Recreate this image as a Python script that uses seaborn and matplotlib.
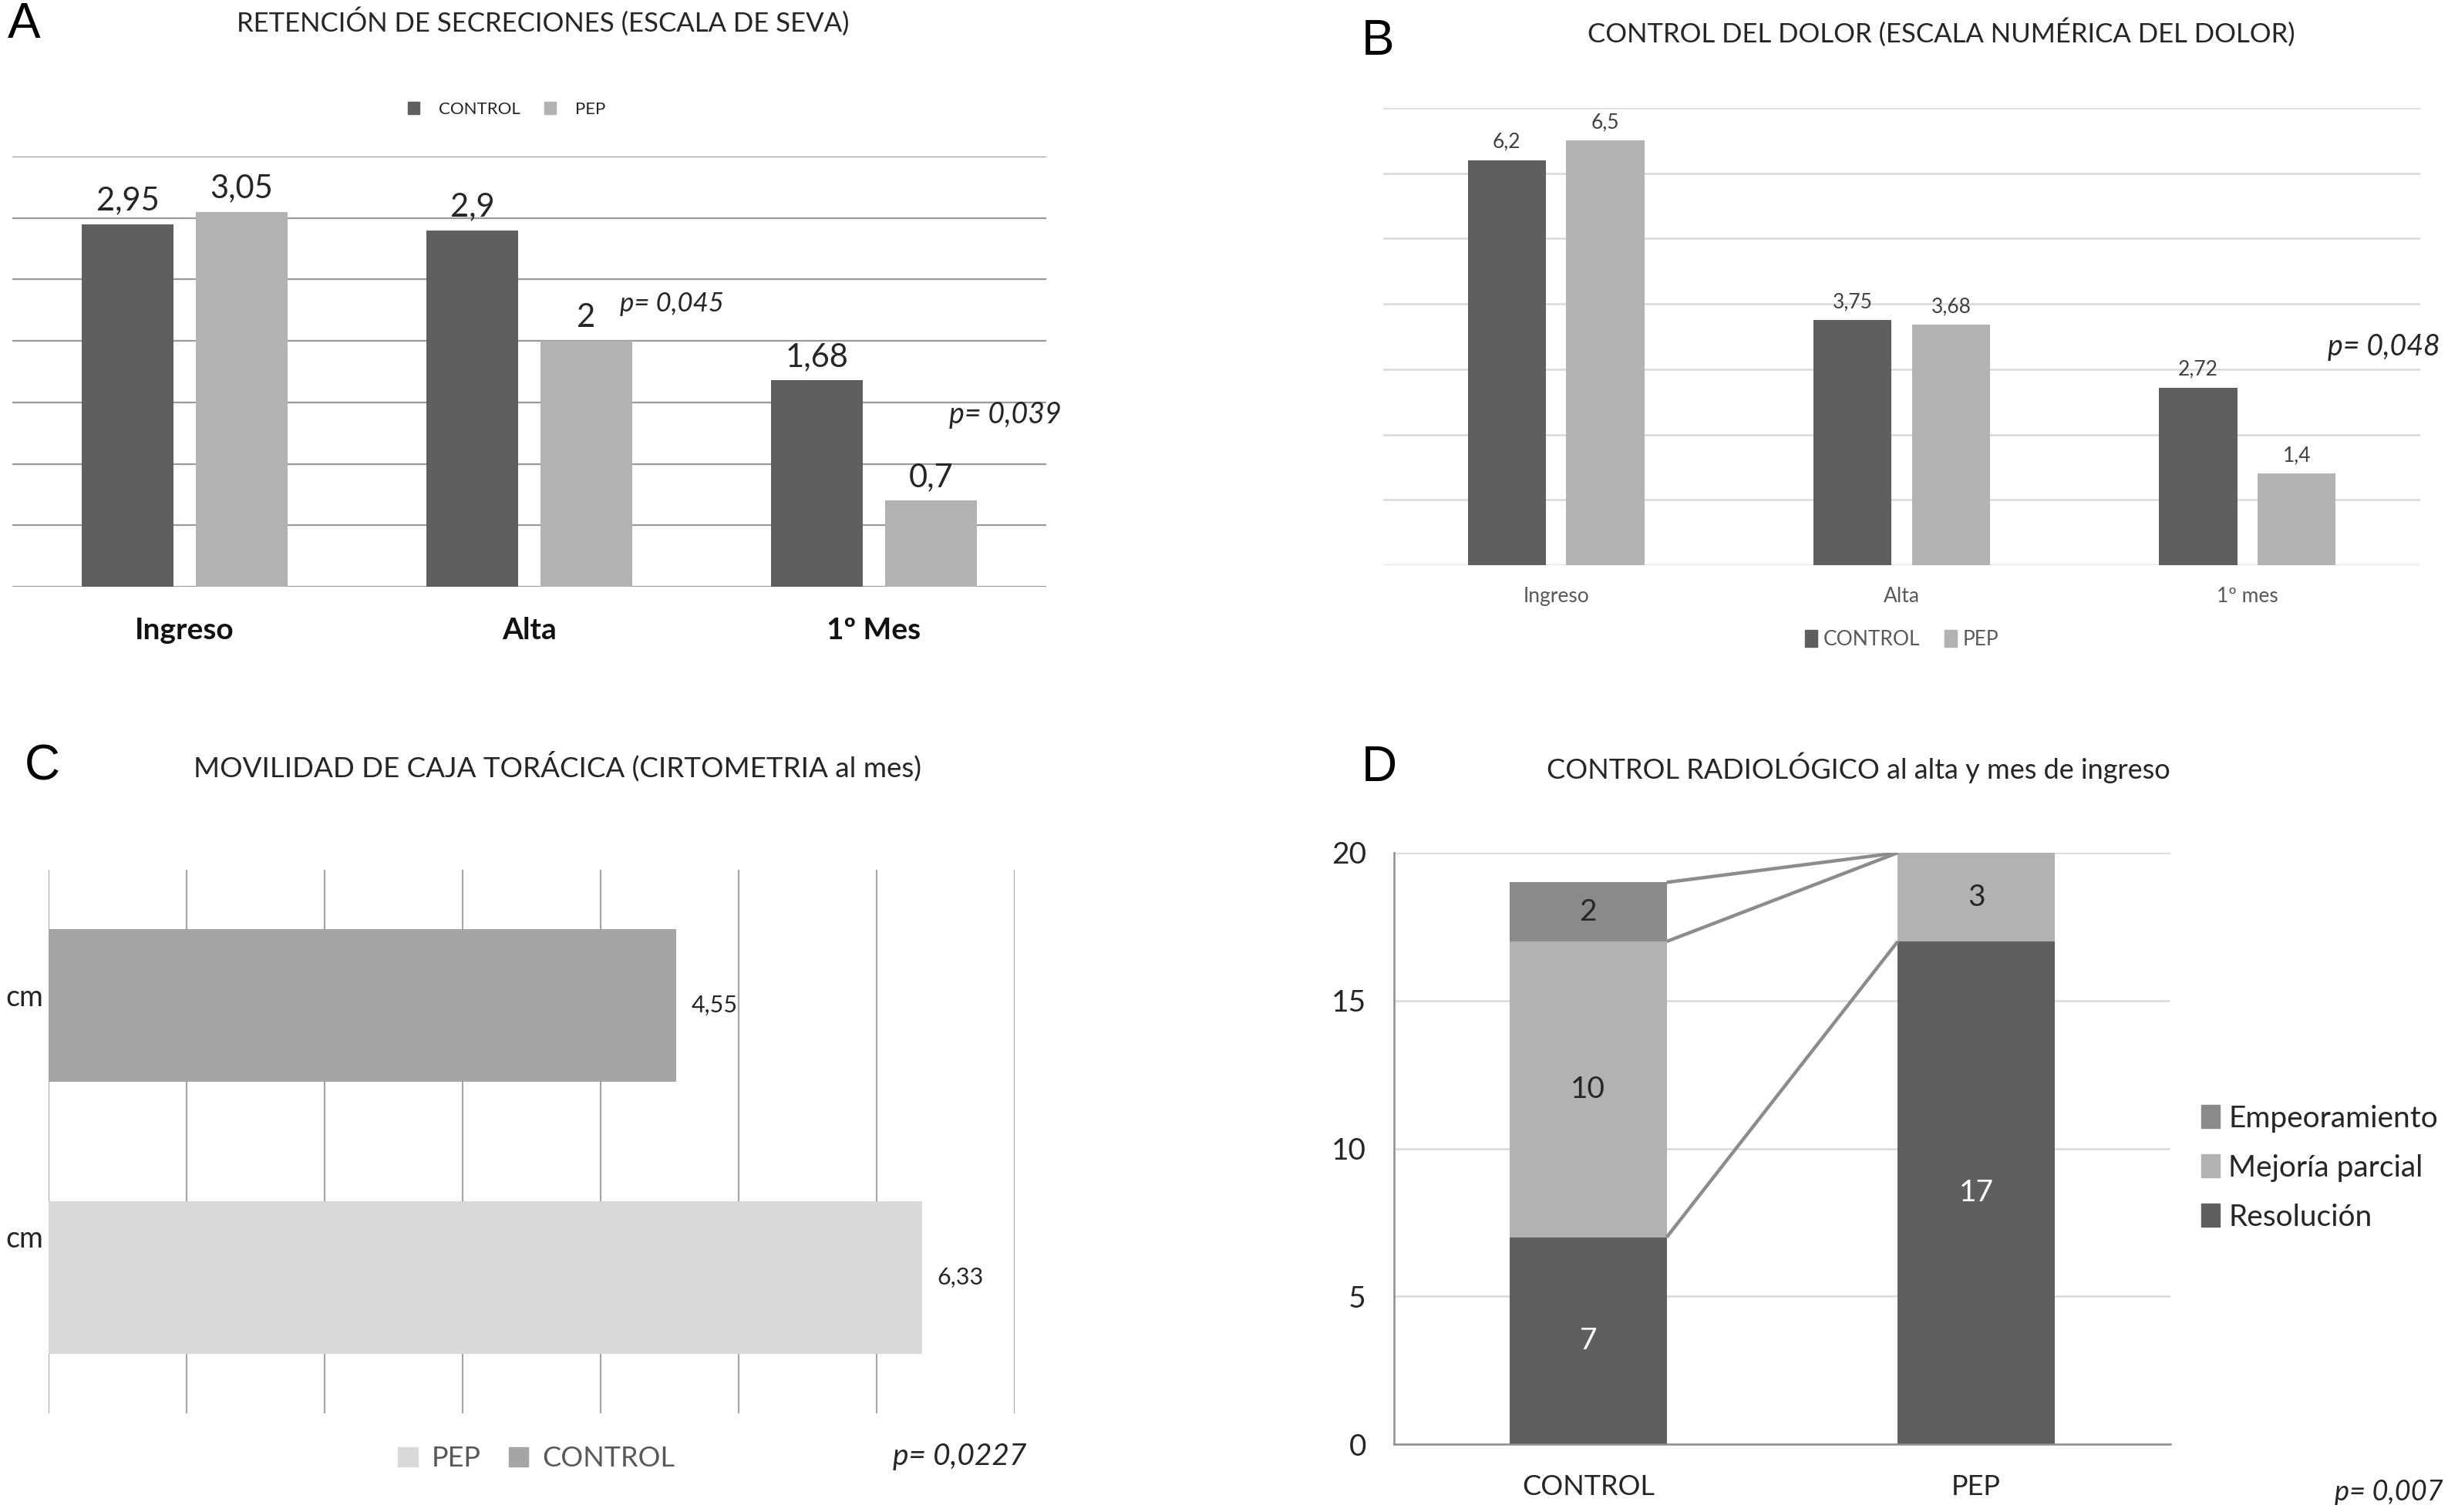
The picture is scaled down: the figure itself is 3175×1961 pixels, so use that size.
import numpy as np
import pandas as pd
import matplotlib
matplotlib.use("Agg")
import matplotlib.pyplot as plt
import seaborn as sns
from matplotlib.patches import Patch

# ---------------- DATA ----------------
grupos = ["CONTROL", "PEP"]

cats_A = ["Ingreso", "Alta", "1º Mes"]
control_A = [2.95, 2.9, 1.68]
pep_A = [3.05, 2.0, 0.7]
pvals_A = ["p= 0,045", "p= 0,039"]

cats_B = ["Ingreso", "Alta", "1º mes"]
control_B = [6.2, 3.75, 2.72]
pep_B = [6.5, 3.68, 1.4]
pval_B = "p= 0,048"

grupos_C = ["CONTROL", "PEP"]
valores_C = [4.55, 6.33]
ylabels_C = ["cm", "cm"]
pval_C = "p= 0,0227"

grupos_D = ["CONTROL", "PEP"]
estados_D = ["Resolución", "Mejoría parcial", "Empeoramiento"]
resolucion_D = [7, 17]
mejoria_D = [10, 3]
empeora_D = [2, 0]
pval_D = "p= 0,007"

titles = ["RETENCIÓN DE SECRECIONES (ESCALA DE SEVA)",
          "CONTROL DEL DOLOR (ESCALA NUMÉRICA DEL DOLOR)",
          "MOVILIDAD DE CAJA TORÁCICA (CIRTOMETRIA al mes)",
          "CONTROL RADIOLÓGICO al alta y mes de ingreso"]
letters = ["A", "B", "C", "D"]

# ---------------- STYLE ----------------
DARK = "#5f5f5f"
LIGHT = "#b2b2b2"
C_CTRL = "#a5a5a5"
C_PEP = "#d9d9d9"
D_EMP = "#8a8a8a"
TXT = "#262626"

sns.set_theme(style="white")
plt.rcParams["font.family"] = ["Lato", "DejaVu Sans"]

W, H = 3175, 1961
fig = plt.figure(figsize=(W / 100, H / 100), dpi=100)


def fx(px):
    return px / W


def fy(py):
    return 1 - py / H


def fmt(v):
    return f"{v:g}".replace(".", ",")


def ax_rect(x0, y0, x1, y1):
    return [fx(x0), fy(y1), fx(x1) - fx(x0), (y1 - y0) / H]


# ---------------- PANEL A ----------------
axA = fig.add_axes(ax_rect(16, 203, 1357, 761))
dfA = pd.DataFrame({
    "cat": cats_A * 2,
    "grupo": ["CONTROL"] * 3 + ["PEP"] * 3,
    "val": control_A + pep_A,
})
sns.barplot(data=dfA, x="cat", y="val", hue="grupo", hue_order=grupos,
            palette={"CONTROL": DARK, "PEP": LIGHT}, saturation=1,
            width=0.66, gap=0.19, legend=False, ax=axA, errorbar=None, linewidth=0)
for cont, vals in zip(axA.containers, [control_A, pep_A]):
    axA.bar_label(cont, labels=[fmt(v) for v in vals], padding=8,
                  fontsize=30, color=TXT)
axA.set_ylim(0, 3.5)
axA.set_xlim(-0.5, 2.5)
axA.set_yticks(np.arange(0, 3.51, 0.5))
axA.yaxis.grid(True, color="#9a9a9a", lw=1.6)
axA.set_axisbelow(True)
axA.tick_params(axis="y", length=0, labelleft=False)
axA.tick_params(axis="x", length=0, pad=28, labelsize=28, labelcolor="#111111")
for lab in axA.get_xticklabels():
    lab.set_fontweight("bold")
for s in axA.spines.values():
    s.set_visible(False)
axA.set_xlabel("")
axA.set_ylabel("")
axA.legend(handles=[Patch(color=DARK, label="CONTROL"), Patch(color=LIGHT, label="PEP")],
           loc="center", bbox_to_anchor=(0.478, 1.11), ncol=2, frameon=False,
           fontsize=16, handlelength=0.7, handleheight=0.7, columnspacing=1.4,
           handletextpad=1.1, labelcolor=TXT)
axA.text(1.262, 2.30, pvals_A[0], style="italic", fontsize=25, ha="left", va="center", color=TXT)
axA.text(2.218, 1.40, pvals_A[1], style="italic", fontsize=27, ha="left", va="center", color=TXT)

# ---------------- PANEL B ----------------
axB = fig.add_axes(ax_rect(1794, 140, 3139, 733))
dfB = pd.DataFrame({
    "cat": cats_B * 2,
    "grupo": ["CONTROL"] * 3 + ["PEP"] * 3,
    "val": control_B + pep_B,
})
sns.barplot(data=dfB, x="cat", y="val", hue="grupo", hue_order=grupos,
            palette={"CONTROL": DARK, "PEP": LIGHT}, saturation=1,
            width=0.57, gap=0.207, legend=False, ax=axB, errorbar=None, linewidth=0)
for cont, vals in zip(axB.containers, [control_B, pep_B]):
    axB.bar_label(cont, labels=[fmt(v) for v in vals], padding=8,
                  fontsize=19, color="#404040")
axB.set_ylim(0, 7)
axB.set_xlim(-0.5, 2.5)
axB.set_yticks(np.arange(0, 7.1, 1))
axB.yaxis.grid(True, color="#d9d9d9", lw=1.8)
axB.set_axisbelow(True)
axB.tick_params(axis="y", length=0, labelleft=False)
axB.tick_params(axis="x", length=0, pad=20, labelsize=19, labelcolor="#595959")
for s in axB.spines.values():
    s.set_visible(False)
axB.set_xlabel("")
axB.set_ylabel("")
axB.legend(handles=[Patch(color=DARK, label="CONTROL"), Patch(color=LIGHT, label="PEP")],
           loc="center", bbox_to_anchor=(0.5, -0.163), ncol=2, frameon=False,
           fontsize=19, handlelength=0.6, handleheight=0.9, columnspacing=1.2,
           handletextpad=0.3, labelcolor="#595959")
fig.text(fx(3165), fy(450), pval_B, style="italic", fontsize=27, ha="right", va="center", color=TXT)

# ---------------- PANEL C ----------------
axC = fig.add_axes(ax_rect(63, 1128, 1316, 1833))
dfC = pd.DataFrame({"grupo": grupos_C, "val": valores_C})
sns.barplot(data=dfC, x="val", y="grupo", hue="grupo", hue_order=grupos_C,
            palette={"CONTROL": C_CTRL, "PEP": C_PEP}, saturation=1,
            width=0.563, legend=False, ax=axC, orient="h", errorbar=None, linewidth=0)
for cont, v in zip(axC.containers, valores_C):
    axC.bar_label(cont, labels=[fmt(v)], padding=14, fontsize=22, color=TXT)
axC.set_xlim(0, 7)
axC.set_ylim(1.5, -0.5)
axC.set_xticks(np.arange(0, 7.1, 1))
axC.xaxis.grid(True, color="#a6a6a6", lw=1.6)
axC.set_axisbelow(True)
axC.tick_params(axis="x", length=0, labelbottom=False)
axC.set_yticks([-0.04, 0.85], ylabels_C)
axC.tick_params(axis="y", length=0, pad=5, labelsize=27, labelcolor=TXT)
for s in axC.spines.values():
    s.set_visible(False)
axC.set_xlabel("")
axC.set_ylabel("")
axC.legend(handles=[Patch(color=C_PEP, label="PEP"), Patch(color=C_CTRL, label="CONTROL")],
           loc="center", bbox_to_anchor=(0.505, -0.083), ncol=2, frameon=False,
           fontsize=26, handlelength=0.7, handleheight=0.7, columnspacing=1.0,
           handletextpad=0.5, labelcolor="#595959")
axC.text(0.874, -0.080, pval_C, style="italic", fontsize=28, ha="left", va="center",
         color=TXT, transform=axC.transAxes)

# ---------------- PANEL D ----------------
axD = fig.add_axes(ax_rect(1808, 1106, 2815, 1873))
dfD = pd.DataFrame({"grupo": grupos_D, "res": resolucion_D, "mej": mejoria_D, "emp": empeora_D})
dfD["c1"] = dfD["res"]
dfD["c2"] = dfD["res"] + dfD["mej"]
dfD["c3"] = dfD["c2"] + dfD["emp"]
colors_D = {"Resolución": DARK, "Mejoría parcial": LIGHT, "Empeoramiento": D_EMP}
for col, est in [("c3", "Empeoramiento"), ("c2", "Mejoría parcial"), ("c1", "Resolución")]:
    sns.barplot(data=dfD, x="grupo", y=col, color=colors_D[est], saturation=1,
                width=0.405, ax=axD, errorbar=None, linewidth=0)
# connector lines between stacked segments
bars_res = axD.patches[-2:]
x_right = bars_res[0].get_x() + bars_res[0].get_width()
x_left = bars_res[1].get_x()
for col in ["c1", "c2", "c3"]:
    axD.plot([x_right, x_left], [dfD[col].iloc[0], dfD[col].iloc[1]],
             color="#8c8c8c", lw=3.2, zorder=5, solid_capstyle="butt")
# segment labels
for i in range(len(grupos_D)):
    segs = [(dfD["res"].iloc[i], 0, "white"),
            (dfD["mej"].iloc[i], dfD["c1"].iloc[i], TXT),
            (dfD["emp"].iloc[i], dfD["c2"].iloc[i], TXT)]
    for v, base, c in segs:
        if v > 0:
            axD.text(i, base + v / 2, f"{v}", ha="center", va="center",
                     fontsize=28, color=c, zorder=6)
axD.set_ylim(0, 20)
axD.set_xlim(-0.5, 1.5)
axD.set_yticks([0, 5, 10, 15, 20])
axD.yaxis.grid(True, color="#d9d9d9", lw=1.8)
axD.set_axisbelow(True)
axD.tick_params(axis="y", length=0, pad=26, labelsize=28, labelcolor=TXT)
axD.tick_params(axis="x", length=0, pad=28, labelsize=26, labelcolor=TXT)
for k in ["top", "right"]:
    axD.spines[k].set_visible(False)
axD.spines["left"].set_color("#8c8c8c")
axD.spines["bottom"].set_color("#8c8c8c")
axD.spines["left"].set_linewidth(1.8)
axD.spines["bottom"].set_linewidth(1.8)
axD.set_xlabel("")
axD.set_ylabel("")
axD.legend(handles=[Patch(color=colors_D[e], label=e) for e in estados_D[::-1]],
           loc="center left", bbox_to_anchor=(1.04, 0.467), frameon=False,
           borderpad=0, borderaxespad=0,
           fontsize=28, handlelength=0.6, handleheight=0.8, handletextpad=0.3,
           labelspacing=0.72, labelcolor=TXT)
fig.text(fx(3169), fy(1936), pval_D, style="italic", fontsize=26, ha="right", va="center", color=TXT)

# ---------------- TITLES / LETTERS ----------------
fig.text(fx(704), fy(28), titles[0], ha="center", va="center", fontsize=25, color=TXT)
fig.text(fx(2518), fy(42), titles[1], ha="center", va="center", fontsize=25, color=TXT)
fig.text(fx(723), fy(994), titles[2], ha="center", va="center", fontsize=26.5, color=TXT)
fig.text(fx(2410), fy(996), titles[3], ha="center", va="center", fontsize=26, color=TXT)
for (lx, ly), L in zip([(10, 32), (1766, 54), (32, 995), (1766, 996)], letters):
    fig.text(fx(lx), fy(ly), L, ha="left", va="center", fontsize=46,
             family=["Liberation Sans", "DejaVu Sans"], color="#000000")

fig.savefig("out.png", dpi=100, facecolor="white")
